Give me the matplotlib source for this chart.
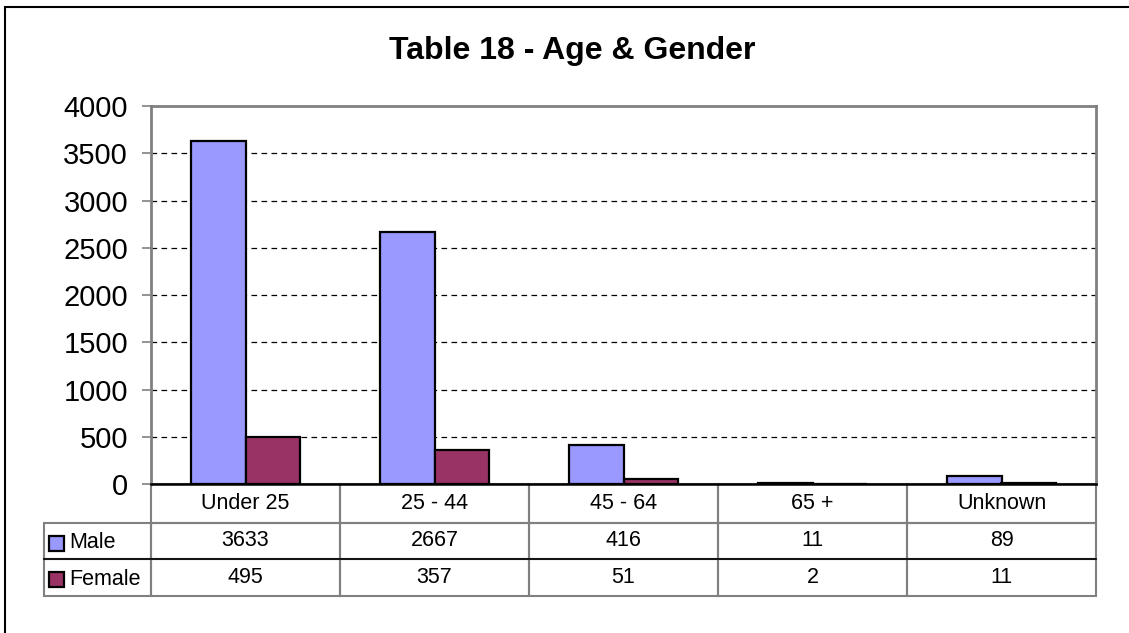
import matplotlib
matplotlib.use("Agg")
import matplotlib.pyplot as plt
from matplotlib.table import Table
from matplotlib.patches import Rectangle
from matplotlib.lines import Line2D
import numpy as np

plt.rcParams['font.family'] = ['Liberation Sans', 'DejaVu Sans']

title = "Table 18 - Age & Gender"
categories = ["Under 25", "25 - 44", "45 - 64", "65 +", "Unknown"]
series_names = ["Male", "Female"]
male = [3633, 2667, 416, 11, 89]
female = [495, 357, 51, 2, 11]
yticks = [0, 500, 1000, 1500, 2000, 2500, 3000, 3500, 4000]
colors = ["#9999FF", "#993366"]

W, H = 1129, 633
fig = plt.figure(figsize=(W / 100, H / 100), dpi=100)

# plot area in pixels
L, R, T, B = 151, 1096, 106, 484
ax = fig.add_axes([L / W, 1 - B / H, (R - L) / W, (B - T) / H])

def ax_x(px):
    return (px - L) / (R - L)

def ax_y(py):
    return (B - py) / (B - T)

x = np.arange(len(categories))
bw = 0.29
for vals, off, c in ((male, -bw / 2, colors[0]), (female, bw / 2, colors[1])):
    ax.bar(x + off, vals, width=bw, color=c, edgecolor="black", linewidth=1.6, zorder=3)

ax.set_xlim(-0.5, len(categories) - 0.5)
ax.set_ylim(0, 4000)
ax.set_yticks(yticks)
ax.set_yticklabels([str(v) for v in yticks], fontsize=21)
ax.set_xticks([])
ax.tick_params(axis="y", length=6.5, width=1.2, color="#808080", pad=10)
for v in yticks[1:-1]:
    ax.axhline(v, color="black", linestyle=(0, (4.5, 3.5)), linewidth=0.9, zorder=1)
for s in ("left", "top", "right"):
    ax.spines[s].set_color("#808080")
    ax.spines[s].set_linewidth(2)
ax.spines["bottom"].set_color("black")
ax.spines["bottom"].set_linewidth(1.8)
ax.spines["bottom"].set_zorder(5)

# data table (widths / heights in axes units)
tx0, ty0, ty1 = 44, 484, 596
rows_px = [39, 36, 37]
rows_h = [h / (B - T) for h in rows_px]
lw_col = (L - tx0) / (R - L)
cw = 1.0 / len(categories)
edge = "#808080"
tbl = Table(ax, bbox=[0, ax_y(ty1), 1, ax_y(ty0) - ax_y(ty1)])
tbl.auto_set_font_size(False)
for j, cat in enumerate(categories):
    tbl.add_cell(0, j, width=cw, height=rows_h[0], text=cat, loc="center",
                 edgecolor=edge, facecolor="none")
for i, vals in enumerate((male, female), start=1):
    tbl.add_cell(i, -1, width=lw_col, height=rows_h[i], text="", edgecolor=edge, facecolor="none")
    for j, v in enumerate(vals):
        tbl.add_cell(i, j, width=cw, height=rows_h[i], text=str(v), loc="center",
                     edgecolor=edge, facecolor="none")
for cell in tbl.get_celld().values():
    cell.set_linewidth(1.5)
    cell.get_text().set_fontsize(15.5)
tbl.set_clip_on(False)
ax.add_table(tbl)

# black separator between Male and Female rows
ysep = ax_y(ty0 + rows_px[0] + rows_px[1])
ax.add_line(Line2D([ax_x(tx0), 1], [ysep, ysep], color="black", linewidth=1.2,
                   transform=ax.transAxes, clip_on=False, zorder=6))

# legend keys in row-label cells
ycur = ty0 + rows_px[0]
for name, c, h in zip(series_names, colors, rows_px[1:]):
    yc = ycur + h / 2 + 2
    ax.add_patch(Rectangle((ax_x(49), ax_y(yc + 7.5)), ax_x(64) - ax_x(49), ax_y(yc - 7.5) - ax_y(yc + 7.5),
                           facecolor=c, edgecolor="black", linewidth=1.6,
                           transform=ax.transAxes, clip_on=False, zorder=7))
    ax.text(ax_x(69), ax_y(yc), name, fontsize=15.5, ha="left", va="center",
            transform=ax.transAxes)
    ycur += h

fig.text(572 / W, 1 - 59 / H, title, fontsize=23, fontweight="bold", ha="center", va="baseline")

# outer chart frame
fig.patches.append(Rectangle((5 / W, -0.1), 1.2, (H - 7) / H + 0.1, transform=fig.transFigure,
                             facecolor="none", edgecolor="black", linewidth=1.5))

fig.savefig("out.png", dpi=100)
